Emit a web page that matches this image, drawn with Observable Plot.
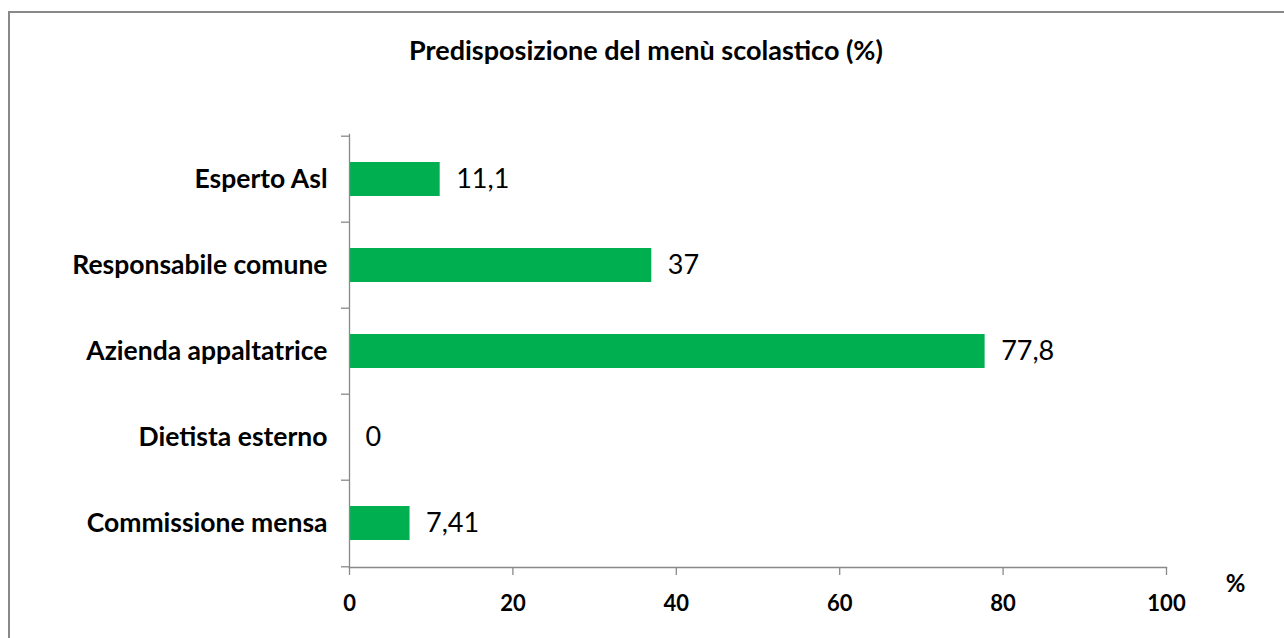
<!DOCTYPE html>
<html>
<head>
<meta charset="utf-8">
<script src="https://cdn.jsdelivr.net/npm/d3@7"></script>
<script src="https://cdn.jsdelivr.net/npm/@observablehq/plot@0.6"></script>
<style>
  html, body { margin: 0; padding: 0; background: #fff; }
  #wrap { position: relative; width: 1284px; height: 638px; overflow: hidden; font-family: Lato, sans-serif; }
  #border { position: absolute; left: 8px; top: 11px; width: 1400px; height: 800px; border-top: 2px solid #898989; border-left: 2px solid #898989; }
  #title { position: absolute; left: 0; top: 36px; width: 1292px; text-align: center; font: bold 27px/27px Lato, sans-serif; color: #000; }
  #chart { position: absolute; left: 0; top: 0; }
</style>
</head>
<body>
<div id="wrap">
  <div id="border"></div>
  <div id="chart"></div>
  <div id="title">Predisposizione del menù scolastico (%)</div>
</div>
<script>
const categories = ["Esperto Asl", "Responsabile comune", "Azienda appaltatrice", "Dietista esterno", "Commissione mensa"];
const values = [11.1, 37, 77.8, 0, 7.41];
const xTicks = [0, 20, 40, 60, 80, 100];
const unitLabel = "%";

const data = categories.map((c, i) => ({cat: c, v: values[i]}));
const gray = "#898989";
const W = 1284, H = 638, mL = 349, mR = 118, mT = 134, mB = 71;
const step = (H - mT - mB) / categories.length;
const fmt = v => String(v).replace(".", ",");

const chart = Plot.plot({
  width: W, height: H,
  marginLeft: mL, marginRight: mR, marginTop: mT, marginBottom: mB,
  style: {fontFamily: "Lato, sans-serif", background: "transparent", overflow: "visible"},
  x: {domain: [0, 100], label: null},
  y: {domain: categories, paddingInner: 0.607, paddingOuter: 0.3035, label: null},
  marks: [
    Plot.barX(data, {x: "v", y: "cat", fill: "#00B050"}),
    Plot.frame({anchor: "left", stroke: gray, strokeWidth: 1.3}),
    Plot.frame({anchor: "bottom", stroke: gray, strokeWidth: 1.3}),
    Plot.axisY({tickSize: 8, text: null, stroke: gray, strokeWidth: 1.3, dy: -step / 2, label: null}),
    Plot.axisY({ticks: [categories[categories.length - 1]], tickSize: 8, text: null, stroke: gray, strokeWidth: 1.3, dy: step / 2, label: null}),
    Plot.axisY({tickSize: 0, tickPadding: 22, fontSize: 26.5, fontWeight: "bold", fill: "#000", label: null}),
    Plot.axisX({ticks: xTicks, tickSize: 8, text: null, stroke: gray, strokeWidth: 1.3, label: null}),
    Plot.axisX({ticks: xTicks, tickSize: 0, tickPadding: 28, fontSize: 22, fontWeight: "bold", fill: "#000", label: null}),
    Plot.text(data, {x: "v", y: "cat", text: d => fmt(d.v), dx: 16, textAnchor: "start", fontSize: 27, fill: "#000"}),
    Plot.text([unitLabel], {frameAnchor: "bottom-right", dx: 79, dy: 24, fontSize: 24, fontWeight: "bold", fill: "#000"})
  ]
});
document.getElementById("chart").appendChild(chart);
</script>
</body>
</html>
